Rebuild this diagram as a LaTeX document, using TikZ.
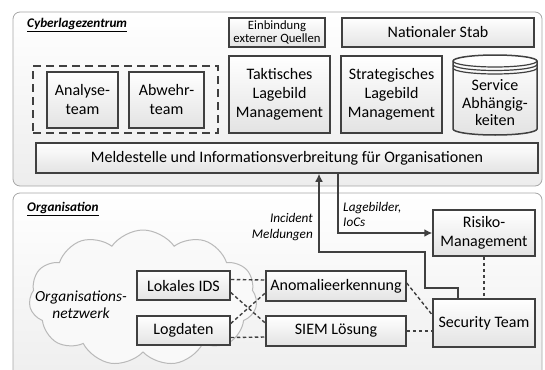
\documentclass[tikz,border=0pt]{standalone}
\usepackage{fontspec}
\setmainfont{Carlito}
\usepackage{tikz}
\usetikzlibrary{arrows.meta}
\usetikzlibrary{shapes.symbols}
\usetikzlibrary{positioning}
\definecolor{linegray}{HTML}{404040}
\definecolor{panelgray}{HTML}{A6A6A6}

\begin{document}
\begin{tikzpicture}[x = 1pt, y = -1pt,
	panel/.style = {draw = panelgray, line width = 0.8pt, rounded corners = 7pt, top color = white, bottom color = gray!14},
	box/.style = {draw = linegray, line width = 1.5pt, top color = white, bottom color = gray!22, inner sep = 0pt, align = center, font = \fontsize{16}{19}\selectfont},
	flow/.style = {draw = linegray, line width = 1.6pt, -{Latex[length = 8pt, width = 8pt]}},
	link/.style = {draw = linegray, line width = 1.4pt, dash pattern = on 3.5pt off 2.5pt},
	note/.style = {font = \fontsize{13.2}{15.5}\selectfont\itshape, inner sep = 0pt},
	title/.style = {font = \fontsize{13.2}{15}\selectfont\bfseries\itshape, anchor = west, inner sep = 0pt}]
			%\draw[help lines] (0,0) grid (545,369);
			\useasboundingbox (0, 0) rectangle (545, 369);
			\clip (0, 0) rectangle (545, 369);
			
			% Cyberlagezentrum
			\path[panel] (13, 12) rectangle (542, 186);
			\node[title] (czlabel) at (27, 25) {\underline{Cyberlagezentrum}};
			\node[box, minimum width = 96, minimum height = 29, font = \fontsize{12.7}{13.5}\selectfont] (ext) at (277, 32.5) {Einbindung\\externer Quellen};
			\node[box, minimum width = 192, minimum height = 29] (stab) at (438, 32.5) {Nationaler Stab};
			\node[draw = linegray, line width = 1.3pt, dash pattern = on 8pt off 5pt, minimum width = 185, minimum height = 67] (teams) at (125.5, 99.5) {};
			\node[box, minimum width = 71, minimum height = 56] (ana) at (82.5, 100) {Analyse-\\team};
			\node[box, minimum width = 75, minimum height = 56] (abw) at (166.5, 100) {Abwehr-\\team};
			\node[box, minimum width = 101, minimum height = 77] (takt) at (279.5, 94.5) {Taktisches\\Lagebild\\Management};
			\node[box, minimum width = 101, minimum height = 77] (strat) at (391.5, 94.5) {Strategisches\\Lagebild\\Management};
			
			\path[top color = white, bottom color = gray!22] (453, 61) -- (453, 129) arc (180:0:42 and 6) -- (537, 61) arc (0:-180:42 and 6) -- cycle;
			\draw[draw = linegray, line width = 1.5pt] (453, 61) -- (453, 129) arc (180:0:42 and 6) -- (537, 61) arc (0:-180:42 and 6) -- cycle;
			\draw[draw = linegray, line width = 1.2pt] (453, 61) arc (180:0:42 and 6);
			\draw[draw = linegray, line width = 1.2pt] (453, 64.5) arc (180:0:42 and 6);
			\draw[draw = linegray, line width = 1.2pt] (453, 68) arc (180:0:42 and 6);
			\node[align = center, inner sep = 0pt, font = \fontsize{16}{17.5}\selectfont] (svc) at (495, 103) {Service\\Abhängig-\\keiten};
			
			\node[box, minimum width = 502, minimum height = 30] (meld) at (287, 158) {Meldestelle und Informationsverbreitung für Organisationen};
			
			% Organisation
			\path[panel] (13, 193) rectangle (542, 390);
			\node[title] (orglabel) at (27, 209) {\underline{Organisation}};
			\node[cloud, cloud puffs = 11, cloud puff arc = 110, aspect = 1.7, draw = gray!55, line width = 1pt, fill = gray!5, minimum width = 228, minimum height = 136] (net) at (143, 298) {};
			\node[note, align = center, font = \fontsize{15.4}{17}\selectfont\itshape] (netlabel) at (81, 305) {Organisations-\\netzwerk};
			
			\node[box, minimum width = 93, minimum height = 29] (ids) at (183.5, 285.5) {Lokales IDS};
			\node[box, minimum width = 93, minimum height = 29] (log) at (183.5, 330.5) {Logdaten};
			\node[box, minimum width = 140, minimum height = 30] (anom) at (336, 286) {Anomalieerkennung};
			\node[box, minimum width = 140, minimum height = 30] (siem) at (336, 331) {SIEM Lösung};
			\node[box, minimum width = 102, minimum height = 48] (sec) at (484, 323) {Security Team};
			\node[box, minimum width = 102, minimum height = 46] (risk) at (484, 233) {Risiko-\\Management};
			
			\draw[link] ([yshift = 6pt]ids.east) -- ([yshift = 6pt]anom.west);
			\draw[link] ([yshift = -7pt]ids.east) -- ([yshift = 8pt]siem.west);
			\draw[link] ([yshift = 7pt]log.east) -- ([yshift = -7pt]anom.west);
			\draw[link] ([yshift = -7pt]log.east) -- ([yshift = -6pt]siem.west);
			\draw[link] ([yshift = 3pt]anom.east) -- ([yshift = 8pt]sec.west);
			\draw[link] (siem.east) -- ([yshift = -8pt]sec.west);
			\draw[link] (risk.south) -- (sec.north);
			
			% Meldungen hin und zurueck
			\coordinate (inc1) at (425, 288);
			\coordinate (inc2) at (319, 252);
			\draw[flow] ([xshift = -26pt]sec.north) |- (inc1) |- (inc2) -- (inc2 |- meld.south);
			\coordinate (lag) at (338, 233);
			\draw[flow] (lag |- meld.south) -- (lag) -- (risk.west);
			\node[note, align = right, anchor = east] (inclabel) at (313, 227) {Incident\\Meldungen};
			\node[note, align = left, anchor = west] (laglabel) at (343, 214.5) {Lagebilder,\\IoCs};
		\end{tikzpicture}
\end{document}
